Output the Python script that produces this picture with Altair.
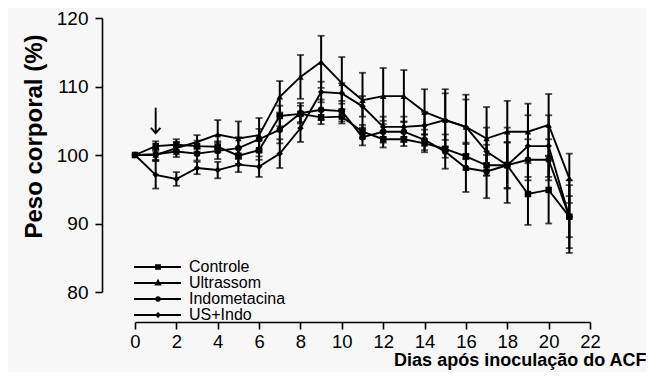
import altair as alt
import pandas as pd

days = list(range(22))
series_names = ["Controle", "Ultrassom", "Indometacina", "US+Indo"]

controle = [100, 101.3, 101.5, 101.3, 101.2, 99.9, 100.7, 105.7, 106.0, 105.5, 105.6,
            103.4, 102.3, 102.3, 101.7, 100.9, 99.8, 98.5, 98.5, 94.3, 94.9, 91.0]
ultrassom = [100, 100.0, 101.0, 101.9, 103.0, 102.4, 102.9, 108.5, 111.4, 113.6, 110.5,
             108.0, 108.6, 108.6, 106.3, 105.1, 104.1, 102.4, 103.4, 103.4, 104.4, 96.6]
indometacina = [100, 100.1, 100.5, 100.2, 100.6, 101.0, 102.3, 103.7, 106.1, 106.6, 106.4,
                102.6, 103.4, 103.4, 102.2, 100.5, 98.1, 97.6, 98.5, 99.3, 99.3, 91.0]
us_indo = [100, 97.1, 96.5, 98.1, 97.8, 98.6, 98.3, 100.2, 103.9, 109.2, 109.0,
           107.1, 104.1, 104.1, 104.3, 105.1, 104.1, 100.5, 98.5, 101.3, 101.3, 91.0]

controle_err = [0, 0.7, 0.8, 0.8, 0.8, 1.2, 1.4, 1.5, 1.2, 1.0, 1.0,
                1.0, 1.2, 1.0, 1.3, 1.3, 2.0, 1.5, 5.5, 4.5, 4.9, 4.6]
ultrassom_err = [0, 0.8, 0.9, 1.0, 2.1, 2.5, 2.5, 2.3, 3.2, 3.8, 3.8,
                 4.0, 4.1, 3.8, 3.3, 4.5, 4.7, 4.6, 4.5, 4.1, 4.5, 3.6]
indometacina_err = [0, 0.8, 0.8, 1.0, 1.2, 1.6, 1.5, 2.0, 1.5, 1.5, 1.5,
                    1.2, 1.6, 1.5, 1.5, 2.5, 3.5, 3.9, 3.3, 3.0, 3.0, 3.0]
us_indo_err = [0, 2.0, 1.0, 0.9, 1.2, 1.1, 1.5, 2.1, 2.0, 1.5, 1.5,
               1.5, 1.5, 1.5, 2.0, 3.9, 4.0, 3.5, 3.4, 4.5, 4.5, 5.3]

x_ticks = list(range(0, 23, 2))
y_ticks = [80, 90, 100, 110, 120]

arrow_day = [1]
arrow_top = [106.9]
arrow_tip = [103.2]

marker_shapes = ["square", "triangle-up", "circle", "diamond"]
legend_line = "M-11.25,0H0.5"
legend_shapes = [
    legend_line + "M-5.75,-0.45H-4.75V0.45H-5.75Z",
    legend_line + "M-5.25,-0.6L-4.7,0.4H-5.8Z",
    legend_line + "M-5.7,0A0.45,0.45 0 1,0 -4.8,0A0.45,0.45 0 1,0 -5.7,0Z",
    legend_line + "M-5.25,-0.45L-4.8,0L-5.25,0.45L-5.7,0Z",
]

rows = []
for name, vals, errs in zip(series_names,
                            [controle, ultrassom, indometacina, us_indo],
                            [controle_err, ultrassom_err, indometacina_err, us_indo_err]):
    for d, v, e in zip(days, vals, errs):
        rows.append({"Dia": d, "Serie": name, "Peso": v, "lo": v - e, "hi": v + e, "err": e})
df = pd.DataFrame(rows)
df_err = df[df["err"] > 0]

arrow_df = pd.DataFrame({"Dia": arrow_day, "top": arrow_top, "tip": arrow_tip})

FONT = "Liberation Sans"

x_scale = alt.Scale(domain=[0, 22], nice=False, zero=False)
y_scale = alt.Scale(domain=[80, 120], nice=False, zero=False)

x_axis = alt.Axis(values=x_ticks, offset=30, tickSize=7, tickWidth=1.6, domainWidth=1.6,
                  domainColor="black", tickColor="black", labelFontSize=18.5, labelFont=FONT,
                  labelColor="black", labelPadding=3, labelFlush=False, labelOverlap=False,
                  grid=False, title="Dias após inoculação do ACF", titleFont=FONT,
                  titleFontSize=18, titleFontWeight="bold", titleColor="black",
                  titleAlign="right", titleX=511, titlePadding=1)
y_axis = alt.Axis(values=y_ticks, offset=33, tickSize=7, tickWidth=1.6, domainWidth=1.6,
                  domainColor="black", tickColor="black", labelFontSize=19, labelFont=FONT,
                  labelColor="black", labelPadding=7, labelFlush=False, labelOverlap=False,
                  grid=False, title="Peso corporal (%)", titleFont=FONT, titleFontSize=24,
                  titleFontWeight="bold", titleColor="black", titlePadding=10, titleY=118)

X = alt.X("Dia:Q", scale=x_scale, axis=x_axis)
Xn = alt.X("Dia:Q", scale=x_scale)

base = alt.Chart(df)

lines = base.mark_line(color="black", strokeWidth=1.9).encode(
    x=X, y=alt.Y("Peso:Q", scale=y_scale, axis=y_axis), detail="Serie:N", order="Dia:Q")

err_rules = alt.Chart(df_err).mark_rule(color="black", strokeWidth=2).encode(
    x=Xn, y=alt.Y("lo:Q", scale=y_scale), y2="hi:Q")
cap_lo = alt.Chart(df_err).mark_tick(orient="horizontal", color="black", size=7,
                                     thickness=1.8).encode(x=Xn, y=alt.Y("lo:Q", scale=y_scale))
cap_hi = alt.Chart(df_err).mark_tick(orient="horizontal", color="black", size=7,
                                     thickness=1.8).encode(x=Xn, y=alt.Y("hi:Q", scale=y_scale))

points = base.mark_point(filled=True, color="black", size=42, opacity=1).encode(
    x=Xn, y=alt.Y("Peso:Q", scale=y_scale),
    shape=alt.Shape("Serie:N", scale=alt.Scale(domain=series_names, range=marker_shapes),
                    legend=None))

legend_layer = base.mark_point(filled=False, color="black", opacity=0, strokeWidth=1.8).encode(
    x=Xn, y=alt.Y("Peso:Q", scale=y_scale),
    shape=alt.Shape("Serie:N", scale=alt.Scale(domain=series_names, range=legend_shapes),
                    legend=alt.Legend(title=None, orient="none", legendX=36, legendY=241,
                                      symbolSize=64, symbolOpacity=1, symbolStrokeWidth=1.8,
                                      symbolStrokeColor="black",
                                      labelFont=FONT, labelFontSize=16, labelColor="black",
                                      labelOffset=2, rowPadding=-1.5, padding=0)))

arrow_shaft = alt.Chart(arrow_df).mark_rule(color="black", strokeWidth=1.9).encode(
    x=Xn, y=alt.Y("top:Q", scale=y_scale), y2="tip:Q")
arrow_head = alt.Chart(arrow_df).mark_point(shape="M-1,-1.1L0,0L1,-1.1", filled=False,
                                             color="black", size=90, strokeWidth=1.9,
                                             opacity=1).encode(
    x=Xn, y=alt.Y("tip:Q", scale=y_scale))

chart = alt.layer(lines, err_rules, cap_lo, cap_hi, points, legend_layer,
                  arrow_shaft, arrow_head).resolve_scale(shape="independent").properties(
    width=455, height=274,
    autosize=alt.AutoSizeParams(type="none"),
    padding={"left": 127, "top": 10, "right": 56, "bottom": 80},
    background="#f7f7f7",
).configure_view(strokeWidth=0)

chart.save("out.html", embed_options={"renderer": "svg", "actions": False})
